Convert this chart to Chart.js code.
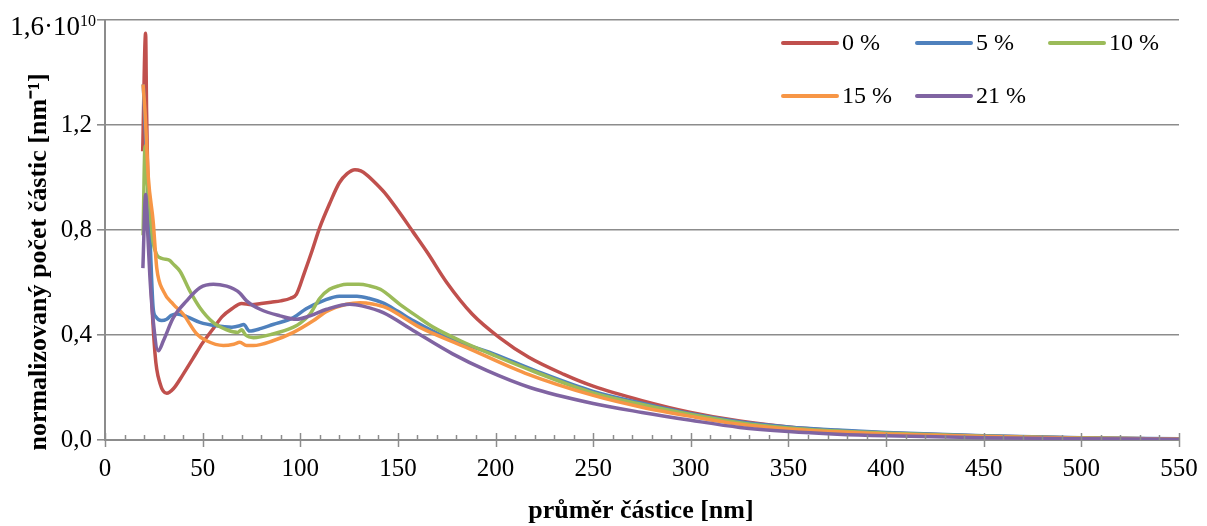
<!DOCTYPE html>
<html>
<head>
<meta charset="utf-8">
<script src="https://cdn.jsdelivr.net/npm/chart.js@4/dist/chart.umd.min.js"></script>
<style>
  body { margin: 0; background: #fff; }
  canvas { display: block; }
</style>
</head>
<body>
<canvas id="chart" width="1207" height="526"></canvas>
<script>
// === DATA (y in units of 10^10 nm^-1) ===
const seriesLabels = ["0 %", "5 %", "10 %", "15 %", "21 %"];
const seriesColors = ["#C0504D", "#4F81BD", "#9BBB59", "#F79646", "#8064A2"];

const d0 = [19.3, 20.8, 21.3, 23, 25.6, 28.2, 31.6, 35, 40, 45, 50, 55, 60, 65, 70, 75, 80, 85, 90, 95, 98, 102, 106, 110, 115, 120, 124, 128, 131, 134, 139, 144, 150, 158, 165, 175, 188, 202, 217, 235, 250, 275, 300, 325, 350, 375, 400, 450, 500, 550];
const n0 = [1.10, 1.55, 1.25, 0.71, 0.33, 0.215, 0.178, 0.195, 0.25, 0.31, 0.37, 0.42, 0.47, 0.50, 0.52, 0.515, 0.52, 0.525, 0.53, 0.54, 0.555, 0.635, 0.72, 0.81, 0.90, 0.98, 1.015, 1.03, 1.025, 1.01, 0.975, 0.935, 0.875, 0.79, 0.715, 0.60, 0.48, 0.39, 0.315, 0.25, 0.205, 0.15, 0.105, 0.072, 0.05, 0.036, 0.027, 0.015, 0.008, 0.004];

const d5 = [19.6, 20.5, 22, 23, 24.7, 26, 27.5, 29, 31.6, 34, 36.7, 41.8, 48.6, 57, 65, 69, 71, 74, 80, 86, 96.5, 103, 111.6, 120, 129, 135, 142, 150, 158, 175, 199, 220, 250, 275, 300, 325, 350, 375, 400, 450, 500, 550];
const n5 = [1.355, 1.2, 0.95, 0.78, 0.50, 0.47, 0.458, 0.455, 0.46, 0.475, 0.48, 0.47, 0.448, 0.435, 0.43, 0.435, 0.44, 0.415, 0.425, 0.44, 0.466, 0.50, 0.53, 0.548, 0.548, 0.54, 0.523, 0.49, 0.454, 0.39, 0.328, 0.265, 0.185, 0.14, 0.10, 0.07, 0.05, 0.038, 0.029, 0.016, 0.009, 0.005];

const d10 = [19.5, 20.5, 21.5, 23, 24.5, 26.5, 28, 30, 33, 35, 38.4, 43.5, 48.6, 55.5, 62.3, 68, 70, 72, 76, 86, 96.5, 100, 105, 110, 115, 120, 124, 130, 135, 141, 151, 160, 168, 182, 200, 220, 250, 275, 300, 325, 350, 375, 400, 450, 500, 550];
const n10 = [0.78, 1.12, 1.0, 0.88, 0.76, 0.706, 0.695, 0.69, 0.685, 0.67, 0.643, 0.567, 0.504, 0.447, 0.42, 0.41, 0.42, 0.40, 0.39, 0.404, 0.43, 0.445, 0.48, 0.54, 0.574, 0.588, 0.593, 0.593, 0.588, 0.574, 0.517, 0.47, 0.43, 0.378, 0.32, 0.26, 0.179, 0.135, 0.097, 0.066, 0.046, 0.034, 0.026, 0.014, 0.008, 0.004];

const d15 = [19.5, 20.5, 22.2, 24.7, 26.5, 29.9, 35, 40, 47, 52, 60.6, 66, 69, 72.5, 76, 86, 96.5, 106.6, 113.5, 123.7, 130.6, 137, 144, 161, 185, 215, 250, 275, 300, 325, 350, 375, 400, 450, 500, 550];
const n15 = [1.355, 1.25, 1.0, 0.83, 0.655, 0.567, 0.517, 0.48, 0.404, 0.378, 0.36, 0.365, 0.372, 0.36, 0.36, 0.378, 0.41, 0.454, 0.49, 0.517, 0.523, 0.518, 0.504, 0.43, 0.353, 0.255, 0.17, 0.125, 0.09, 0.06, 0.042, 0.031, 0.023, 0.013, 0.007, 0.004];

const d21 = [19.4, 20.8, 21.8, 23, 24.7, 27.3, 29.9, 35, 41.8, 48.6, 55.5, 62.3, 66, 69, 72.5, 79.4, 89.6, 98, 105, 113.5, 125.4, 132, 142.5, 158, 178, 195.4, 217.6, 250, 275, 300, 325, 350, 375, 400, 450, 500, 550];
const n21 = [0.655, 0.935, 0.80, 0.62, 0.454, 0.34, 0.378, 0.466, 0.53, 0.58, 0.593, 0.586, 0.575, 0.56, 0.53, 0.498, 0.473, 0.46, 0.473, 0.498, 0.517, 0.51, 0.485, 0.416, 0.328, 0.265, 0.20, 0.139, 0.105, 0.075, 0.048, 0.032, 0.022, 0.016, 0.009, 0.005, 0.003];

const xTitle = "průměr částice [nm]";
const yTitle = "normalizovaný počet částic [nm⁻¹]";

const diameters = [d0, d5, d10, d15, d21];
const counts = [n0, n5, n10, n15, n21];

const FONT = "'Liberation Serif', 'Times New Roman', serif";
const GRID = "#8c8c8c";

const datasets = seriesLabels.map((lab, i) => ({
    label: lab,
    data: diameters[i].map((x, j) => ({ x: x, y: counts[i][j] })),
    borderColor: seriesColors[i],
    backgroundColor: seriesColors[i],
    borderWidth: 3.5,
    pointRadius: 0,
    tension: 0.4,
    cubicInterpolationMode: "monotone",
    order: seriesLabels.length - i, // later series on top, like Excel
}));

// extra drawing: x tick marks, top label, axis titles, legend
const extras = {
    id: "extras",
    afterDraw(chart) {
        const ctx = chart.ctx;
        const xs = chart.scales.x, ys = chart.scales.y;
        const y0 = ys.getPixelForValue(0);
        ctx.save();
        ctx.strokeStyle = GRID;
        ctx.lineWidth = 1.5;
        for (let v = 0; v <= 550; v += 10) {
            const px = Math.round(xs.getPixelForValue(v)) + 0.5;
            ctx.beginPath();
            if (v % 50 === 0) {
                ctx.moveTo(px, y0 - 7);
                ctx.lineTo(px, y0 + 7);
            } else {
                ctx.moveTo(px, y0 - 5);
                ctx.lineTo(px, y0);
            }
            ctx.stroke();
        }

        // top y label with exponent
        const yTop = ys.getPixelForValue(1.6);
        ctx.fillStyle = "#000";
        ctx.textBaseline = "alphabetic";
        ctx.textAlign = "right";
        ctx.font = "27px " + FONT;
        ctx.fillText("1,6·10", 80, yTop + 15);
        ctx.textAlign = "left";
        ctx.font = "16px " + FONT;
        ctx.fillText("10", 80, yTop + 6);

        // axis titles
        ctx.font = "bold 26px " + FONT;
        ctx.textAlign = "center";
        ctx.fillText(xTitle, 641, 518);
        ctx.save();
        ctx.translate(46, 262);
        ctx.rotate(-Math.PI / 2);
        ctx.fillText(yTitle, 0, 0);
        ctx.restore();

        // legend
        const cols = [783, 917, 1050];
        const rows = [43, 96];
        ctx.font = "24px " + FONT;
        ctx.textBaseline = "middle";
        ctx.textAlign = "left";
        ctx.lineCap = "round";
        ctx.lineWidth = 4;
        seriesLabels.forEach((lab, i) => {
            const cx = cols[i % 3], cy = rows[Math.floor(i / 3)];
            ctx.strokeStyle = seriesColors[i];
            ctx.beginPath();
            ctx.moveTo(cx, cy);
            ctx.lineTo(cx + 54, cy);
            ctx.stroke();
            ctx.fillStyle = "#000";
            ctx.fillText(lab, cx + 59, cy + 1);
        });
        ctx.restore();
    },
};

new Chart(document.getElementById("chart"), {
    type: "line",
    data: { datasets: datasets },
    options: {
        responsive: false,
        animation: false,
        layout: { padding: { top: 17, right: 28, left: 0, bottom: 0 } },
        plugins: {
            legend: { display: false },
            tooltip: { enabled: false },
        },
        scales: {
            x: {
                type: "linear",
                min: 0,
                max: 550,
                afterFit: (s) => { s.height = 86; s.paddingLeft = 0; s.paddingRight = 0; },
                grid: { display: false, drawTicks: false },
                border: { display: true, color: GRID, width: 2 },
                ticks: {
                    stepSize: 50,
                    autoSkip: false,
                    maxRotation: 0,
                    padding: 14,
                    color: "#000",
                    font: { family: FONT, size: 25 },
                },
            },
            y: {
                min: 0,
                max: 1.6,
                afterFit: (s) => { s.width = 105; },
                grid: { color: GRID, lineWidth: 1.6, tickLength: 8 },
                border: { display: true, color: GRID, width: 2 },
                ticks: {
                    stepSize: 0.4,
                    padding: 5,
                    color: "#000",
                    font: { family: FONT, size: 25 },
                    callback: (v) => (Math.abs(v - 1.6) < 1e-6 ? "" : v.toFixed(1).replace(".", ",")),
                },
            },
        },
    },
    plugins: [extras],
});
</script>
</body>
</html>
